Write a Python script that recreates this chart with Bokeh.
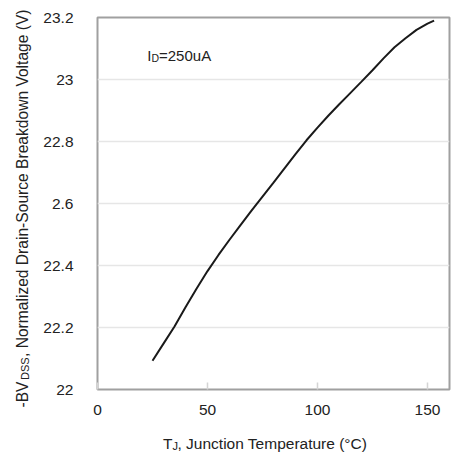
from math import pi
from bokeh.plotting import figure
from bokeh.models import Label, FixedTicker, Range1d
from bokeh.layouts import row, column
from bokeh.embed import file_html
from bokeh.resources import INLINE

# ---- data ----
temp_c = [25, 30, 35, 40, 45, 50, 55, 60, 65, 70, 75, 80, 85, 90, 95, 100,
          105, 110, 115, 120, 125, 130, 135, 140, 145, 150, 153]
bv_dss = [22.093, 22.148, 22.203, 22.265, 22.325, 22.382, 22.434, 22.483,
          22.530, 22.577, 22.622, 22.667, 22.713, 22.759, 22.804, 22.845,
          22.884, 22.921, 22.957, 22.993, 23.030, 23.068, 23.104, 23.133,
          23.160, 23.180, 23.190]
x_ticks = [0, 50, 100, 150]
y_ticks = [22.0, 22.2, 22.4, 22.6, 22.8, 23.0, 23.2]
y_tick_labels = ["22", "22.2", "22.4", "2.6", "22.8", "23", "23.2"]

X0, X1 = 0, 160
Y0, Y1 = 22.0, 23.2

FONT = "Liberation Sans"
TXT = "#222222"

LEFT_W = 40            # width of the strip holding the y title
MAIN_H = 424
FL, FT, FW, FH = 57, 17, 352, 372   # frame inside main figure

p = figure(frame_width=FW, frame_height=FH, output_backend="svg",
           toolbar_location=None, x_range=Range1d(X0, X1), y_range=Range1d(Y0, Y1),
           min_border_left=FL, min_border_right=2, min_border_top=FT,
           min_border_bottom=MAIN_H - FT - FH)
p.background_fill_color = "white"
p.border_fill_color = "white"
p.outline_line_color = "#a0a0a0"
p.outline_line_width = 2

p.xgrid.visible = False
p.ygrid.grid_line_color = "#e6e6e6"
p.ygrid.grid_line_width = 1.5

p.xaxis.ticker = FixedTicker(ticks=x_ticks)
p.yaxis.ticker = FixedTicker(ticks=y_ticks)
p.yaxis.major_label_overrides = {t: s for t, s in zip(y_ticks, y_tick_labels)}

for ax in (p.xaxis, p.yaxis):
    ax.axis_line_color = None
    ax.minor_tick_line_color = None
    ax.major_label_text_font = FONT
    ax.major_label_text_font_size = "15.5px"
    ax.major_label_text_color = TXT
p.xaxis.major_tick_in = 7
p.xaxis.major_tick_out = 0
p.xaxis.major_tick_line_color = "#d4d4d4"
p.xaxis.major_tick_line_width = 1.5
p.xaxis.major_label_standoff = 15
p.yaxis.major_tick_line_color = None
p.yaxis.major_label_standoff = 18

p.line(temp_c, bv_dss, line_color="#1a1a1a", line_width=2)


def img_to_main(px, py):
    # image pixel -> data coordinates of the main figure
    fx = px - LEFT_W
    x = X0 + (fx - FL) / FW * (X1 - X0)
    y = Y0 + (FT + FH - py) / FH * (Y1 - Y0)
    return x, y


def add_label(fig, x, y, text, size, angle=0.0):
    fig.add_layout(Label(x=x, y=y, text=text, text_font=FONT,
                         text_font_size=size, text_color=TXT, angle=angle,
                         text_align="left", text_baseline="alphabetic"))


# annotation inside plot
for px, py, txt, sz in [(146.7, 55, "I", "15px"), (150.9, 57.5, "D", "10.5px"),
                        (158.5, 55, "=250uA", "15px")]:
    x, y = img_to_main(px, py)
    add_label(p, x, y, txt, sz)


def strip(w, h):
    # plain strip whose data coordinates are pixels, origin bottom-left
    f = figure(frame_width=w, frame_height=h, output_backend="svg",
               toolbar_location=None, title=None,
               x_range=Range1d(0, w), y_range=Range1d(0, h),
               x_axis_type=None, y_axis_type=None, min_border=0)
    f.outline_line_color = None
    f.background_fill_color = "white"
    f.border_fill_color = "white"
    return f


# y-axis title strip (pieces positioned from the top of the image)
ys = strip(LEFT_W, MAIN_H)
add_label(ys, 21.7, MAIN_H - 407, "-BV", "15.6px", pi / 2)
add_label(ys, 24.2, MAIN_H - 379.5, "DSS", "11px", pi / 2)
add_label(ys, 21.7, MAIN_H - 356.5, ", Normalized Drain-Source Breakdown Voltage (V)",
          "15.6px", pi / 2)

# x-axis title strip
XS_H = 454 - MAIN_H
xs = strip(LEFT_W + FL + FW + 2, XS_H)
add_label(xs, 162.5, XS_H - 19, "T", "15.5px")
add_label(xs, 172.0, XS_H - 21, "J", "11px")
add_label(xs, 177.0, XS_H - 19, ", Junction Temperature (°C)", "15.5px")

# keep the strips from being frame-aligned with the main plot
for f in (p, ys, xs):
    if "frame_align" in f.properties():
        f.frame_align = False

layout = column(row(ys, p), xs)
open("out.html", "w").write(file_html(layout, INLINE))
